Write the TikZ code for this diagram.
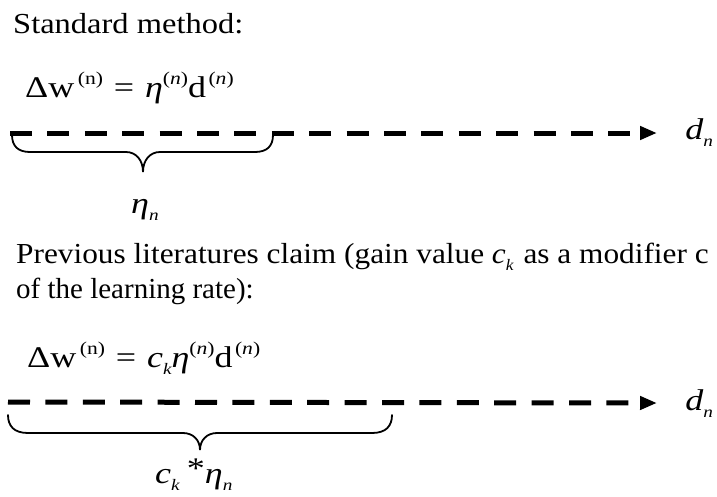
\documentclass[tikz,border=0pt]{standalone}
\usepackage{fontspec}
\setmainfont{Liberation Serif}
\usetikzlibrary{arrows.meta}
\newcommand{\eqsup}[1]{\raisebox{12.5pt}{\fontsize{18}{18}\selectfont #1}}
\newcommand{\eqsub}[1]{\raisebox{-7pt}{\fontsize{16}{16}\selectfont\itshape #1}}
\begin{document}
\begin{tikzpicture}[x=1pt,y=-1pt,
  txt/.style={anchor=base west,inner sep=0pt,font=\fontsize{29}{34}\selectfont},
  eqtxt/.style={anchor=base west,inner sep=0pt,font=\fontsize{30}{34}\selectfont,xscale=1.2},
  dline/.style={line width=5pt,dash pattern=on 22pt off 15.4pt,-{Triangle[length=17pt,width=13pt]}},
  bracepath/.style={line width=1.8pt,line cap=round}]
\useasboundingbox (0,0) rectangle (717,496);
% top block
\node[txt,xscale=1.12] (t1) at (13,33) {Standard method:};
\node[eqtxt] (eq1) at (25,97) {Δw\hspace{3pt}\eqsup{(n)}\hspace{9pt}=\hspace{9pt}\textit{η}\eqsup{(\textit{n})}d\hspace{2pt}\eqsup{(\textit{n})}};
\coordinate (s1) at (10,133);
\coordinate (e1) at (657,133);
\draw[dline] (s1) -- (e1);
\node[eqtxt] (dn1) at (685,139) {\textit{d}\eqsub{n}};
\draw[bracepath] (12,135) .. controls (12,146) and (18,152) .. (30,152) -- (126,152)
  .. controls (136,152) and (143,160) .. (143,172)
  .. controls (143,160) and (150,152) .. (160,152) -- (255,152)
  .. controls (267,152) and (273,146) .. (273,135);
\node[eqtxt] (eta1) at (131,213) {\textit{η}\eqsub{n}};
% bottom block
\node[txt,xscale=1.08] (t2) at (16,263) {Previous literatures claim (gain value \textit{c}\eqsub{k}\hspace{2pt} as a modifier c};
\node[txt] (t3) at (16,298) {of the learning rate):};
\node[eqtxt] (eq2) at (27,367) {Δw\hspace{3pt}\eqsup{(n)}\hspace{9pt}=\hspace{9pt}\textit{c}\eqsub{k}\textit{η}\eqsup{(\textit{n})}d\hspace{2pt}\eqsup{(\textit{n})}};
\coordinate (s2) at (8,402);
\coordinate (e2) at (657,403);
\draw[dline] (s2) -- (e2);
\node[eqtxt] (dn2) at (685,410) {\textit{d}\eqsub{n}};
\draw[bracepath] (8,415) .. controls (8,426) and (14,433) .. (28,433) -- (183,433)
  .. controls (193,433) and (200,440) .. (200,450)
  .. controls (200,440) and (207,433) .. (217,433) -- (372,433)
  .. controls (386,433) and (392,426) .. (392,415);
\node[eqtxt] (ck) at (155,483) {\textit{c}\eqsub{k}\hspace{6pt}\raisebox{5pt}{*}\textit{η}\eqsub{n}};
\end{tikzpicture}
\end{document}
